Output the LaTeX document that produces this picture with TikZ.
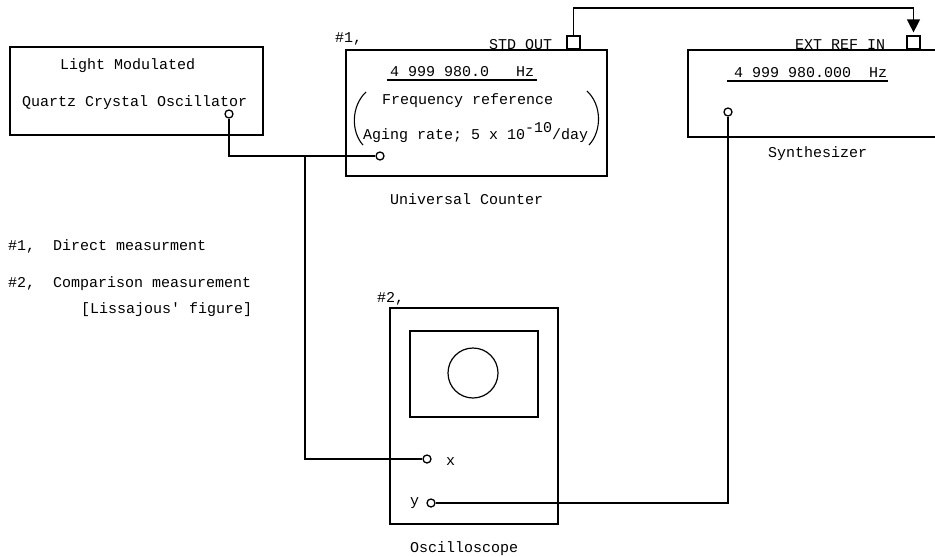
\documentclass[tikz,border=0pt]{standalone}
\usepackage{fontspec}
\setmainfont{Liberation Mono}
\usetikzlibrary{arrows.meta,calc}
\begin{document}
\begin{tikzpicture}[x=1pt,y=-1pt,
  every node/.style={font=\fontsize{15}{18}\selectfont},
  lbl/.style={anchor=base west,inner sep=0pt},
  box/.style={draw,line width=1.3pt,inner sep=0pt},
  port/.style={circle,draw,fill=white,minimum size=8pt,inner sep=0pt,line width=1.3pt},
  sq/.style={draw,fill=white,minimum width=13pt,minimum height=13pt,inner sep=0pt,line width=1.2pt},
  wire/.style={line width=1.2pt}]
\useasboundingbox (0,0) rectangle (935,557);
% boxes
\node[box,minimum width=253pt,minimum height=88pt] (osc) at (136.5,91) {};
\node[box,minimum width=261pt,minimum height=126pt] (cnt) at (476.5,113) {};
\node[box,minimum width=252pt,minimum height=87pt] (syn) at (814,93.5) {};
\node[box,minimum width=168pt,minimum height=216pt] (scope) at (474,416) {};
\node[box,minimum width=128pt,minimum height=86pt] (screen) at (474,374) {};
\node[draw,circle,line width=1.2pt,minimum size=50pt,inner sep=0pt] (lis) at (473,373) {};
% oscillator texts
\node[lbl] (t1) at (60,69) {Light Modulated};
\node[lbl] (t2) at (22,106) {Quartz Crystal Oscillator};
% counter texts
\node[lbl] (cf) at (390,76) {4 999 980.0\ \ \ Hz};
\draw[wire] ($(cf.base west)+(-3,4)$) -- ($(cf.base east)+(3,4)$);
\node[lbl] (cr) at (382,104) {Frequency reference};
\node[lbl] (ca) at (363,139) {Aging rate; 5 x 10\raisebox{7pt}{-10}/day};
\draw[line width=1.1pt] (366,92) .. controls (351,106) and (351,132) .. (363,145);
\draw[line width=1.1pt] (587,91) .. controls (602,105) and (602,131) .. (589,145);
\node[lbl] (n1) at (335,42) {\#1,};
\node[lbl] (so) at (489,49) {STD OUT};
\node[lbl] (uc) at (390,204) {Universal Counter};
% synthesizer texts
\node[lbl] (er) at (795,49) {EXT REF IN};
\node[lbl] (sf) at (734,77) {4 999 980.000\ \ Hz};
\draw[wire] ($(sf.base west)+(-7,4)$) -- ($(sf.base east)+(1,4)$);
\node[lbl] (sy) at (768,157) {Synthesizer};
% legend
\node[lbl] (l1) at (8,250) {\#1,\ \ Direct measurment};
\node[lbl] (l2) at (8,287) {\#2,\ \ Comparison measurement};
\node[lbl] (l3) at (81,313) {[Lissajous\textquotesingle\ figure]};
% oscilloscope texts
\node[lbl] (n2) at (377,302) {\#2,};
\node[lbl] (xl) at (446,465) {x};
\node[lbl] (yl) at (410,505) {y};
\node[lbl] (os) at (410,552) {Oscilloscope};
% ports
\node[port] (oscout) at (229,114) {};
\node[port] (cntin) at (380,156) {};
\node[port] (synout) at (728,112) {};
\node[port] (xin) at (427,459) {};
\node[port] (yin) at (431,503) {};
\node[sq] (stdout) at (573.5,42.5) {};
\node[sq] (extref) at (913.5,42.5) {};
\coordinate (j1) at (305,156);
\coordinate (wtop) at (573.5,8);
% connectors
\draw[wire] (oscout) |- (cntin);
\draw[wire] (j1) |- (xin);
\draw[wire] (synout) |- (yin);
\draw[wire,-{Triangle[width=13pt,length=13pt]},shorten >=3pt] (stdout.north) -- (wtop) -| (extref.north);
\end{tikzpicture}
\end{document}
